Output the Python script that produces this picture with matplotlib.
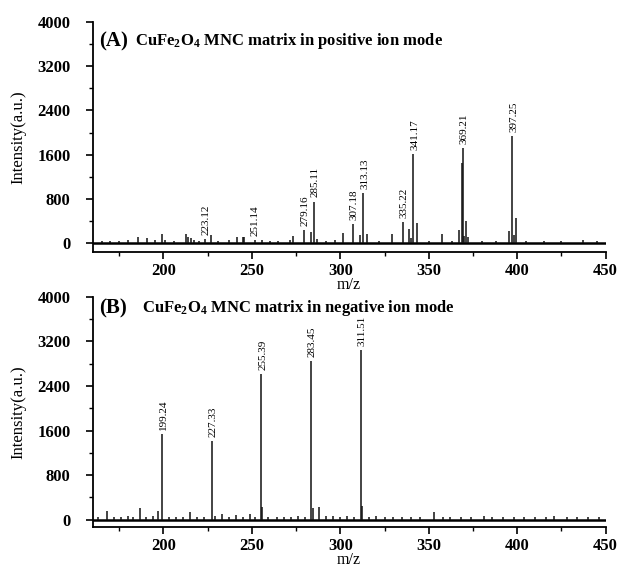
import numpy as np
import matplotlib
matplotlib.use("Agg")
import matplotlib.pyplot as plt
from matplotlib.ticker import MultipleLocator

plt.rcParams['font.family'] = ['Liberation Serif', 'DejaVu Serif']
plt.rcParams['font.weight'] = 'bold'
plt.rcParams['mathtext.default'] = 'regular'

# panel A: positive ion mode (m/z, intensity)
pos_mz = [165, 170, 175, 180, 185.5, 190.6, 195, 199.1, 201, 206, 212.8, 214, 215.5, 217, 220,
          223.6, 226.8, 231, 236.8, 241.5, 244.9, 245.6, 251.5, 255.6, 260, 265, 271.3, 273.5,
          279.2, 283.2, 285.1, 287, 292, 297, 301.4, 307.2, 311.2, 313.1, 315, 322, 329.2, 335.2,
          339, 340, 341.2, 343.3, 350, 357.4, 363, 367.2, 368.7, 369.2, 370, 371.2, 372, 380, 388,
          395.1, 397.25, 398, 399.3, 405, 415, 425, 437, 445]
pos_int = [40, 30, 35, 50, 110, 80, 45, 170, 60, 40, 170, 100, 90, 60, 40,
           70, 145, 40, 50, 100, 100, 110, 55, 50, 35, 40, 60, 120,
           240, 200, 750, 70, 40, 50, 180, 340, 140, 900, 160, 40, 160, 370,
           250, 80, 1615, 360, 40, 165, 35, 240, 1445, 1720, 120, 400, 100, 40, 35,
           210, 1930, 150, 460, 40, 35, 30, 45, 30]
pos_labels = ["223.12", "251.14", "279.16", "285.11", "307.18", "313.13", "335.22",
              "341.17", "369.21", "397.25"]

# panel B: negative ion mode
neg_mz = [163, 168.3, 172, 176, 180, 183, 186.8, 190, 194, 197.2, 199.24, 203, 207, 211, 215,
          219, 223, 227.33, 229, 233, 237, 241, 245, 249, 252, 255.39, 255.8, 259, 264, 268,
          272, 276, 280, 283.45, 284.5, 287.9, 292, 296, 300, 304, 308, 311.51, 312, 316, 320,
          325, 330, 335, 340, 345, 353, 358, 362, 368, 374, 381, 386, 392, 398, 404, 410, 416,
          421, 428, 434, 440, 446]
neg_int = [40, 160, 50, 40, 60, 40, 200, 50, 60, 160, 1530, 50, 40, 50, 130,
           50, 40, 1410, 60, 100, 50, 80, 40, 100, 50, 2620, 230, 50, 40, 50,
           40, 60, 50, 2850, 210, 230, 60, 70, 50, 60, 40, 3050, 240, 50, 60,
           40, 50, 40, 50, 40, 130, 50, 40, 50, 40, 70, 40, 50, 40, 50, 40, 50,
           60, 40, 50, 40, 50]
neg_labels = ["199.24", "227.33", "255.39", "283.45", "311.51"]

titles = [("(A)", r"CuFe$_2$O$_4$ MNC matrix in positive ion mode"),
          ("(B)", r"CuFe$_2$O$_4$ MNC matrix in negative ion mode")]

fig = plt.figure(figsize=(6.18, 5.67), dpi=100)
axA = fig.add_axes([0.150, 0.556, 0.830, 0.405])
axB = fig.add_axes([0.150, 0.0710, 0.830, 0.4052])


def spectrum(ax, mz, inten, labels, title, ylo, ty, tx):
    mz = np.array(mz)
    inten = np.array(inten)
    ax.set_xlim(160, 450)
    ax.set_ylim(ylo, 4000)
    x0, x1 = ax.get_xlim()
    ax.plot([x0, x1], [0, 0], color='k', lw=1.8, zorder=2)
    ax.vlines(mz, 0, inten, color='#111111', lw=1.1, zorder=3)
    for lab in labels:
        v = float(lab)
        h = inten[np.abs(mz - v) < 1.2].max()
        ax.annotate(lab, (v, h), xytext=(1, 3), textcoords='offset points',
                    rotation=90, ha='center', va='bottom', fontsize=8,
                    fontweight='normal')
    ax.text(0.012, ty, title[0], transform=ax.transAxes, fontsize=15,
            va='center', ha='left')
    ax.text(tx, ty, title[1], transform=ax.transAxes, fontsize=12,
            va='center', ha='left')
    ax.spines['top'].set_visible(False)
    ax.spines['right'].set_visible(False)
    ax.spines['left'].set_linewidth(1.3)
    ax.spines['bottom'].set_linewidth(1.3)
    ax.xaxis.set_major_locator(MultipleLocator(50))
    ax.xaxis.set_minor_locator(MultipleLocator(25))
    ax.yaxis.set_major_locator(MultipleLocator(800))
    ax.yaxis.set_minor_locator(MultipleLocator(400))
    ax.tick_params(which='major', direction='out', length=5, width=1.2, labelsize=12)
    ax.tick_params(which='minor', direction='out', length=3, width=1.0)
    ax.tick_params(axis='y', which='major', pad=11)
    ax.tick_params(axis='x', which='major', pad=3)
    ax.set_xlabel('m/z', fontsize=11.5, labelpad=-1.5)
    ax.set_ylabel('Intensity(a.u.)', fontsize=12, labelpad=8)


spectrum(axA, pos_mz, pos_int, pos_labels, titles[0], -160, 0.917, 0.083)
spectrum(axB, neg_mz, neg_int, neg_labels, titles[1], -130, 0.952, 0.097)

fig.savefig('out.png', dpi=100)
